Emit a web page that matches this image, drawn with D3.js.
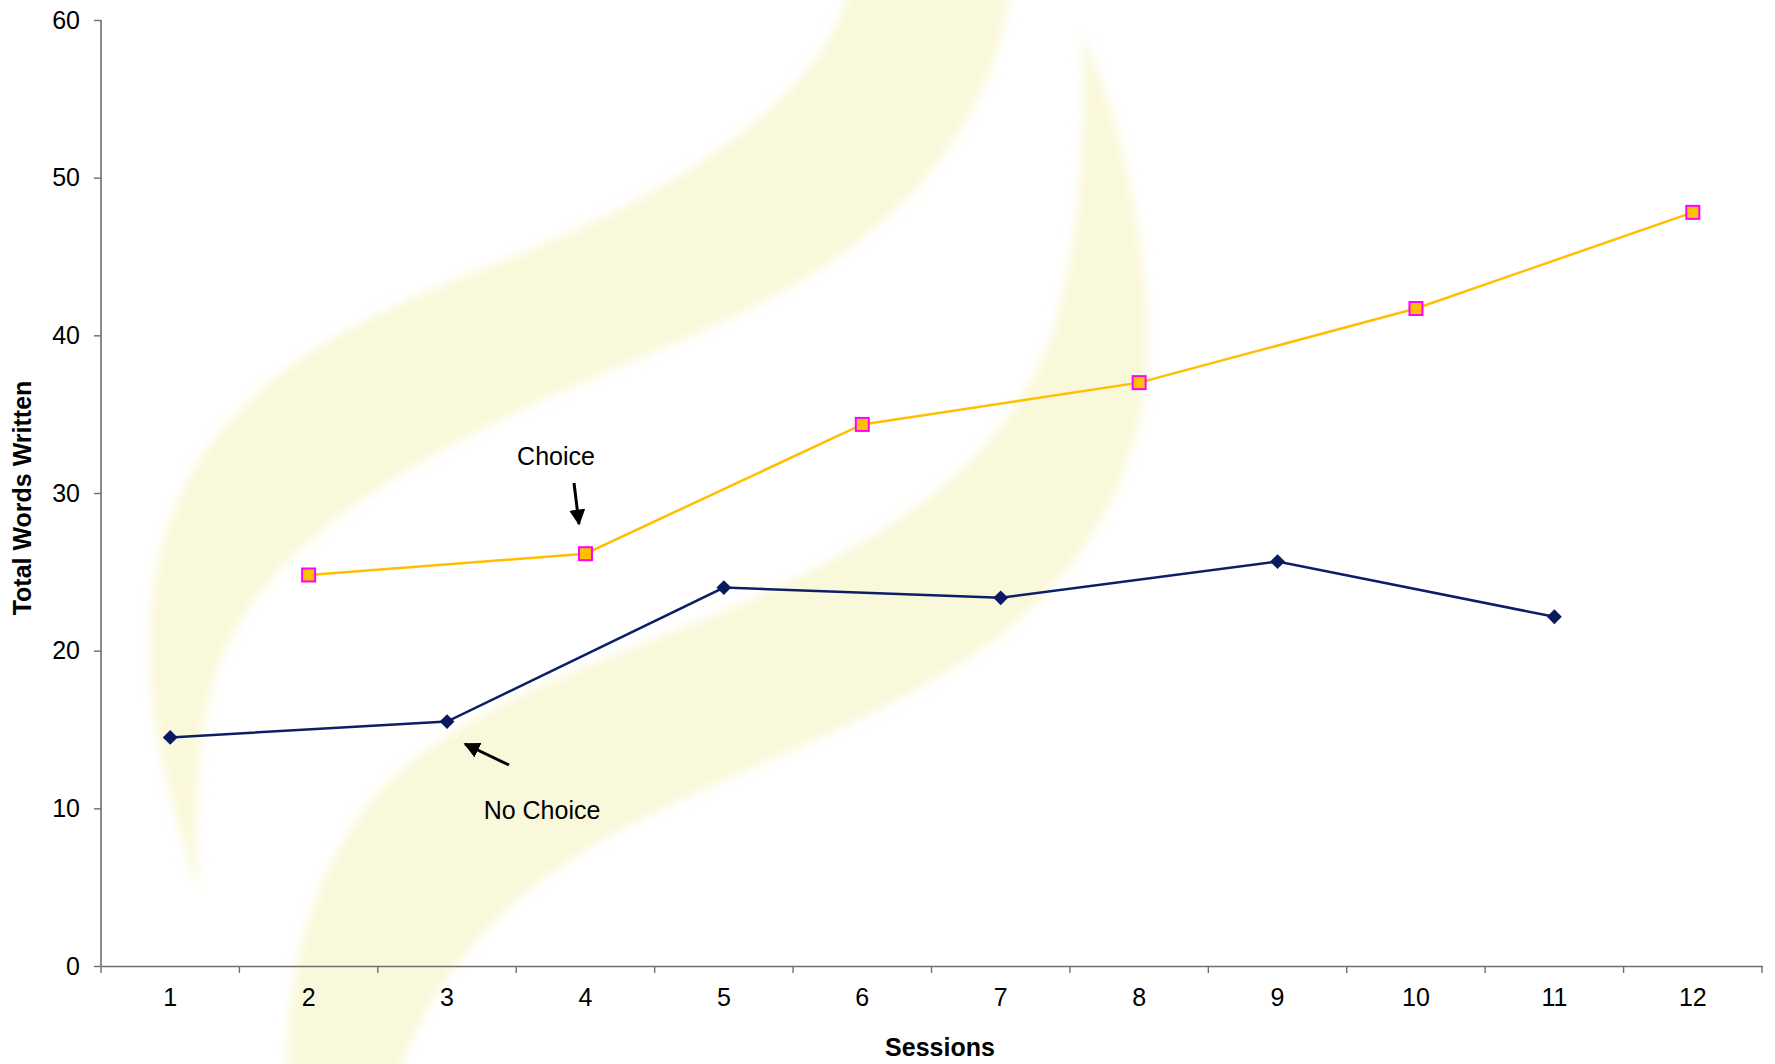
<!DOCTYPE html>
<html>
<head>
<meta charset="utf-8">
<script src="https://cdn.jsdelivr.net/npm/d3@7"></script>
<style>
  body { margin: 0; background: #fff; }
  svg { display: block; font-family: "Liberation Sans", Arial, sans-serif; }
</style>
</head>
<body>
<svg id="chart" width="1775" height="1064"></svg>
<script>
// data
const sessions = [1, 2, 3, 4, 5, 6, 7, 8, 9, 10, 11, 12]
const noChoiceSessions = [1, 3, 5, 7, 9, 11]
const noChoiceValues = [14.5, 15.5, 24.0, 23.35, 25.65, 22.15]
const choiceSessions = [2, 4, 6, 8, 10, 12]
const choiceValues = [24.8, 26.15, 34.35, 37.0, 41.7, 47.8]
const yTicks = [0, 10, 20, 30, 40, 50, 60]

const width = 1775, height = 1064
const margin = {left: 101, right: 13, top: 20, bottom: 98}

const svg = d3.select("#chart")

// faint yellow watermark in the background
const defs = svg.append("defs")
defs.append("filter").attr("id", "soft")
  .append("feGaussianBlur").attr("stdDeviation", 5)
const wm = svg.append("g").attr("fill", "#faf8da").attr("filter", "url(#soft)")
wm.append("path").attr("d",
  "M198,890 C170,800 140,700 152,600 C165,480 230,400 330,340 C440,275 560,250 680,175 C770,120 830,60 850,-10 " +
  "L1010,-10 C1000,80 950,170 860,240 C760,320 620,360 500,420 C380,480 270,550 225,650 C195,720 195,800 198,890 Z")
wm.append("path").attr("d",
  "M288,1070 C285,980 310,870 380,790 C470,700 610,660 750,600 C880,540 1000,470 1050,340 C1085,230 1085,110 1082,35 " +
  "C1120,110 1150,250 1148,360 C1140,480 1080,580 980,650 C880,720 760,760 640,820 C520,880 440,960 400,1070 Z")

const x = d3.scaleBand()
  .domain(sessions)
  .range([margin.left, width - margin.right])

const y = d3.scaleLinear()
  .domain([0, 60])
  .range([height - margin.bottom, margin.top])

const cx = d => x(d) + x.bandwidth() / 2

// axes
const axisColor = "#6e6e6e"
const xAxis = svg.append("g")
  .attr("transform", `translate(0,${y(0)})`)
  .call(d3.axisBottom(x).tickSize(0).tickPadding(22))
xAxis.select(".domain").attr("stroke", axisColor).attr("stroke-width", 1.6)
xAxis.selectAll("text").attr("font-size", 25).attr("fill", "#000").attr("font-family", "Liberation Sans, Arial, sans-serif")
// tick marks at category boundaries
xAxis.selectAll(".sep")
  .data(d3.range(sessions.length + 1))
  .join("line")
  .attr("class", "sep")
  .attr("x1", i => margin.left + i * x.step())
  .attr("x2", i => margin.left + i * x.step())
  .attr("y1", 0).attr("y2", 7)
  .attr("stroke", axisColor).attr("stroke-width", 1.4)

const yAxis = svg.append("g")
  .attr("transform", `translate(${margin.left},0)`)
  .call(d3.axisLeft(y).tickValues(yTicks).tickSize(7).tickPadding(14))
yAxis.select(".domain").attr("stroke", axisColor).attr("stroke-width", 1.6).attr("d", `M0,${y(60)}V${y(0)}`)
yAxis.selectAll(".tick line").attr("stroke", axisColor).attr("stroke-width", 1.4)
yAxis.selectAll("text").attr("font-size", 25).attr("fill", "#000").attr("font-family", "Liberation Sans, Arial, sans-serif")

// axis titles
svg.append("text")
  .attr("x", 940)
  .attr("y", 1056)
  .attr("text-anchor", "middle")
  .attr("font-size", 25).attr("font-weight", "bold")
  .text("Sessions")
svg.append("text")
  .attr("transform", `translate(31,${(y(0) + y(60)) / 2 + 5}) rotate(-90)`)
  .attr("text-anchor", "middle")
  .attr("font-size", 25).attr("font-weight", "bold")
  .text("Total Words Written")

// lines
const line = d3.line().x(d => cx(d[0])).y(d => y(d[1]))
const noChoice = noChoiceSessions.map((s, i) => [s, noChoiceValues[i]])
const choice = choiceSessions.map((s, i) => [s, choiceValues[i]])

svg.append("path").datum(noChoice)
  .attr("d", line).attr("fill", "none")
  .attr("stroke", "#0c1f66").attr("stroke-width", 2.5)
svg.append("path").datum(choice)
  .attr("d", line).attr("fill", "none")
  .attr("stroke", "#ffbf00").attr("stroke-width", 2.5)

// markers
svg.append("g").selectAll("path")
  .data(noChoice)
  .join("path")
  .attr("d", d3.symbol(d3.symbolSquare, 110))
  .attr("transform", d => `translate(${cx(d[0])},${y(d[1])}) rotate(45)`)
  .attr("fill", "#0a1a5e")

svg.append("g").selectAll("rect")
  .data(choice)
  .join("rect")
  .attr("x", d => cx(d[0]) - 6.5)
  .attr("y", d => y(d[1]) - 6.5)
  .attr("width", 13).attr("height", 13)
  .attr("fill", "#ffc000")
  .attr("stroke", "#ff00ff").attr("stroke-width", 2)

// annotations
defs.append("marker")
  .attr("id", "arrow").attr("viewBox", "0 0 10 10")
  .attr("refX", 9).attr("refY", 5)
  .attr("markerWidth", 16).attr("markerHeight", 16)
  .attr("markerUnits", "userSpaceOnUse")
  .attr("orient", "auto")
  .append("path").attr("d", "M0,0L10,5L0,10Z").attr("fill", "#000")

svg.append("text").attr("x", 556).attr("y", 465)
  .attr("text-anchor", "middle").attr("font-size", 25).text("Choice")
svg.append("line")
  .attr("x1", 574).attr("y1", 483).attr("x2", 579).attr("y2", 524)
  .attr("stroke", "#000").attr("stroke-width", 3)
  .attr("marker-end", "url(#arrow)")

svg.append("text").attr("x", 542).attr("y", 819)
  .attr("text-anchor", "middle").attr("font-size", 25).text("No Choice")
svg.append("line")
  .attr("x1", 509).attr("y1", 765).attr("x2", 465).attr("y2", 744)
  .attr("stroke", "#000").attr("stroke-width", 3)
  .attr("marker-end", "url(#arrow)")
</script>
</body>
</html>
